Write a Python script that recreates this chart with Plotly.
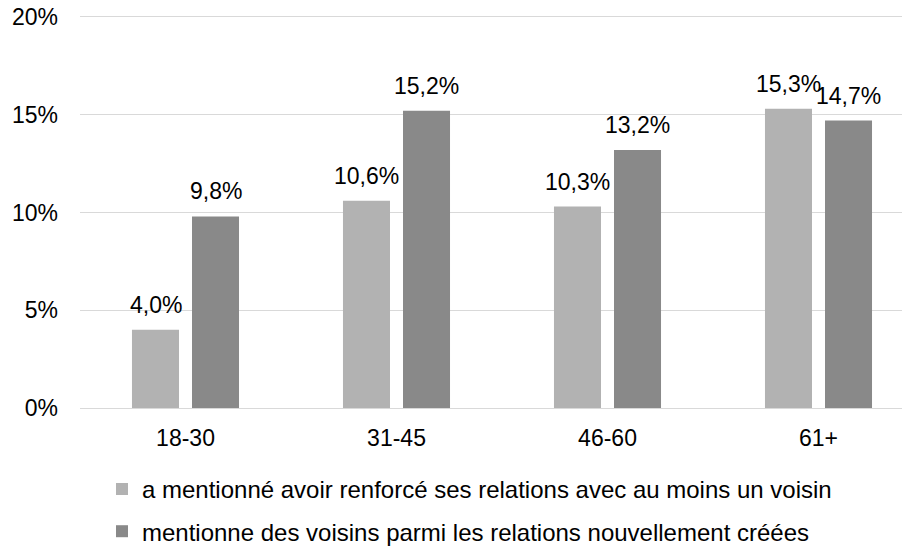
import plotly.graph_objects as go

categories = ["18-30", "31-45", "46-60", "61+"]
series1_name = "a mentionné avoir renforcé ses relations avec au moins un voisin"
series1 = [0.040, 0.106, 0.103, 0.153]
series2_name = "mentionne des voisins parmi les relations nouvellement créées"
series2 = [0.098, 0.152, 0.132, 0.147]
y_ticks = [0, 0.05, 0.10, 0.15, 0.20]

FONT = "Liberation Sans, Arial, sans-serif"
FS = 23
C1, C2 = "#b2b2b2", "#898989"

def fmt(v):
    return f"{v * 100:.1f}%".replace(".", ",")

fig = go.Figure()
fig.add_trace(go.Bar(x=categories, y=series1, name=series1_name,
                     marker=dict(color=C1, line_width=0), legendgroup="a"))
fig.add_trace(go.Bar(x=categories, y=series2, name=series2_name,
                     marker=dict(color=C2, line_width=0), legendgroup="b"))

annotations = []
for vals, shift in ((series1, -30), (series2, 30)):
    for c, v in zip(categories, vals):
        annotations.append(dict(
            x=c, y=v, xref="x", yref="y", text=fmt(v), showarrow=False,
            xshift=shift, yshift=10, yanchor="bottom", xanchor="center",
            font=dict(size=FS, color="#000000", family=FONT),
        ))

fig.update_layout(
    width=902, height=538,
    margin=dict(l=72, r=0, t=7, b=138, autoexpand=False),
    paper_bgcolor="white", plot_bgcolor="white",
    font=dict(family=FONT, size=FS, color="#000000"),
    separators=", ",
    barmode="group", bargap=0.431, bargroupgap=0.217,
    annotations=annotations,
    showlegend=True,
    legend=dict(
        xref="container", yref="container", x=0.1042, y=0.147,
        xanchor="left", yanchor="top", orientation="v",
        traceorder="grouped", tracegroupgap=8,
        font=dict(size=24, family=FONT, color="#000000"),
        bgcolor="rgba(0,0,0,0)",
    ),
    xaxis=dict(range=[-0.5, -0.5 + 830 / 211], showgrid=False, showline=True,
               linecolor="#d9d9d9", linewidth=1, ticks="", tickangle=0,
               ticklabelstandoff=9, tickfont=dict(size=FS)),
    yaxis=dict(range=[0, 0.201], tickvals=y_ticks, tickformat=".0%",
               showgrid=True, gridcolor="#d9d9d9", gridwidth=1,
               zeroline=False, showline=False, ticks="",
               ticklabeloverflow="allow",
               ticklabelstandoff=21, tickfont=dict(size=FS)),
)

fig.write_html("out.html")
